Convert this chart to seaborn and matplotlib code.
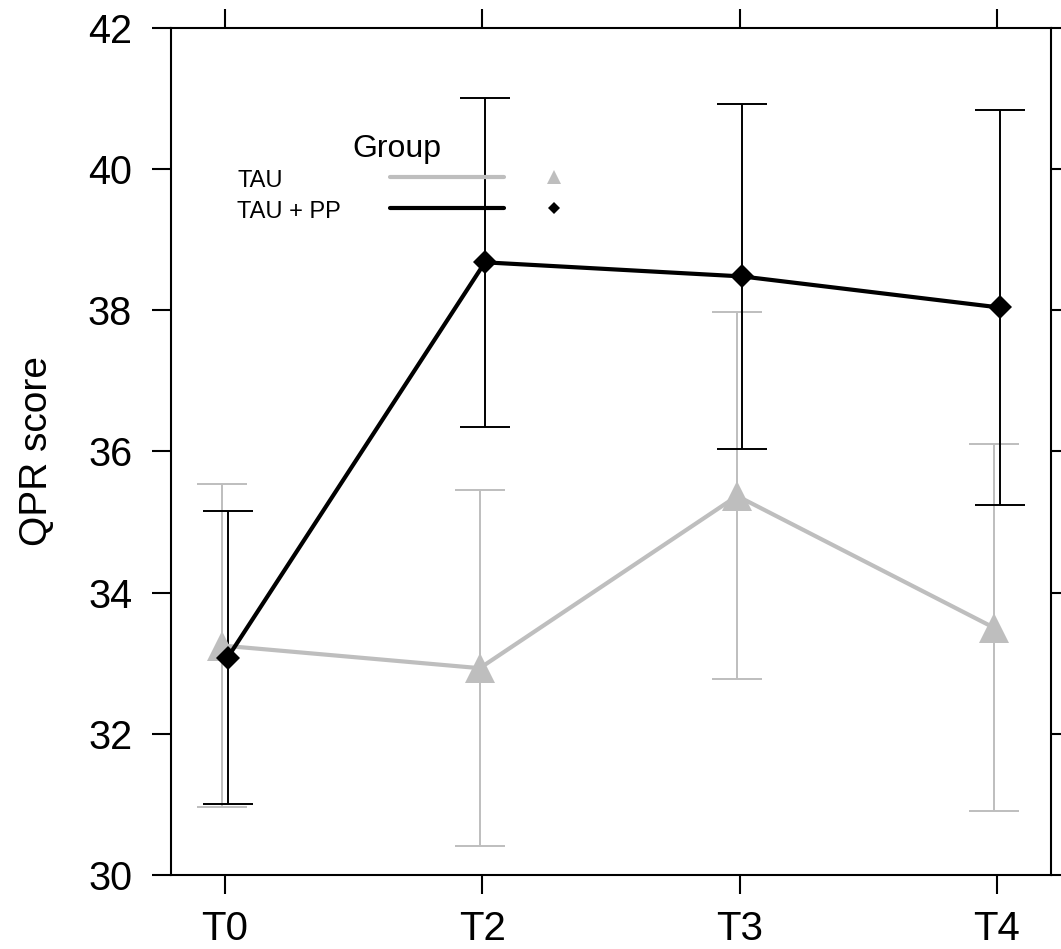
import numpy as np
import pandas as pd
import seaborn as sns
from matplotlib import pyplot as plt

sns.set_style("ticks")
plt.rcParams['font.family'] = ['Liberation Sans', 'DejaVu Sans']
plt.rcParams.update({'text.color': 'black', 'axes.labelcolor': 'black',
                     'xtick.color': 'black', 'ytick.color': 'black',
                     'axes.edgecolor': 'black'})

times = ['T0', 'T2', 'T3', 'T4']
groups = ['TAU', 'TAU + PP']
tau_mean = [33.25, 32.93, 35.37, 33.50]
tau_err = [2.29, 2.52, 2.60, 2.60]
pp_mean = [33.08, 38.68, 38.48, 38.04]
pp_err = [2.08, 2.33, 2.45, 2.80]

colors = {'TAU': '#bebebe', 'TAU + PP': 'black'}
markers = {'TAU': '^', 'TAU + PP': 'D'}
msizes = {'TAU': 21, 'TAU + PP': 12}
key_msizes = {'TAU': 10, 'TAU + PP': 6}
shift = {'TAU': -0.01, 'TAU + PP': 0.01}

df = pd.DataFrame({
    'pos': np.tile(np.arange(len(times)), 2),
    'group': np.repeat(groups, len(times)),
    'score': tau_mean + pp_mean,
    'err': tau_err + pp_err,
})
df['x'] = df['pos'] + df['group'].map(shift)

fig = plt.figure(figsize=(10.61, 9.49), dpi=100)
ax = fig.add_axes([0.1612, 0.078, 0.8294, 0.8925])

for g in groups:
    d = df[df['group'] == g]
    ax.errorbar(d['x'], d['score'], yerr=d['err'], fmt='none', ecolor=colors[g],
                elinewidth=1.4, capsize=18, capthick=1.4, zorder=2)
    sns.lineplot(data=d, x='x', y='score', color=colors[g], marker=markers[g],
                 markersize=msizes[g], markeredgewidth=0, linewidth=3.0,
                 ax=ax, zorder=3)

ax.set_xlim(-0.21, 3.21)
ax.set_ylim(30, 42)
ax.set_xticks(range(len(times)))
ax.set_xticklabels(times)
ax.set_yticks(range(30, 43, 2))
ax.set_xlabel('')
ax.set_ylabel('QPR score', fontsize=28, labelpad=24)
ax.tick_params(axis='x', labelsize=29, pad=11)
ax.tick_params(axis='y', labelsize=28.5, pad=14)
ax.tick_params(direction='out', length=14, width=1.5, top=True, right=True)
for s in ax.spines.values():
    s.set_visible(True)
    s.set_linewidth(1.5)

# key, drawn like the lattice legend
ax.text(0.257, 0.848, 'Group', transform=ax.transAxes, ha='center',
        va='baseline', fontsize=23)
key_y = [0.812, 0.776]
for g, yk in zip(groups, key_y):
    ax.text(0.075, yk, g, transform=ax.transAxes, ha='left', va='baseline', fontsize=17)
    ax.plot([0.249, 0.378], [yk + 0.012] * 2, transform=ax.transAxes,
            color=colors[g], linewidth=3.0, solid_capstyle='round')
    ax.plot([0.435], [yk + 0.012], transform=ax.transAxes, color=colors[g],
            marker=markers[g], markersize=key_msizes[g], markeredgewidth=0,
            linestyle='none')

fig.savefig('out.png', dpi=100)
